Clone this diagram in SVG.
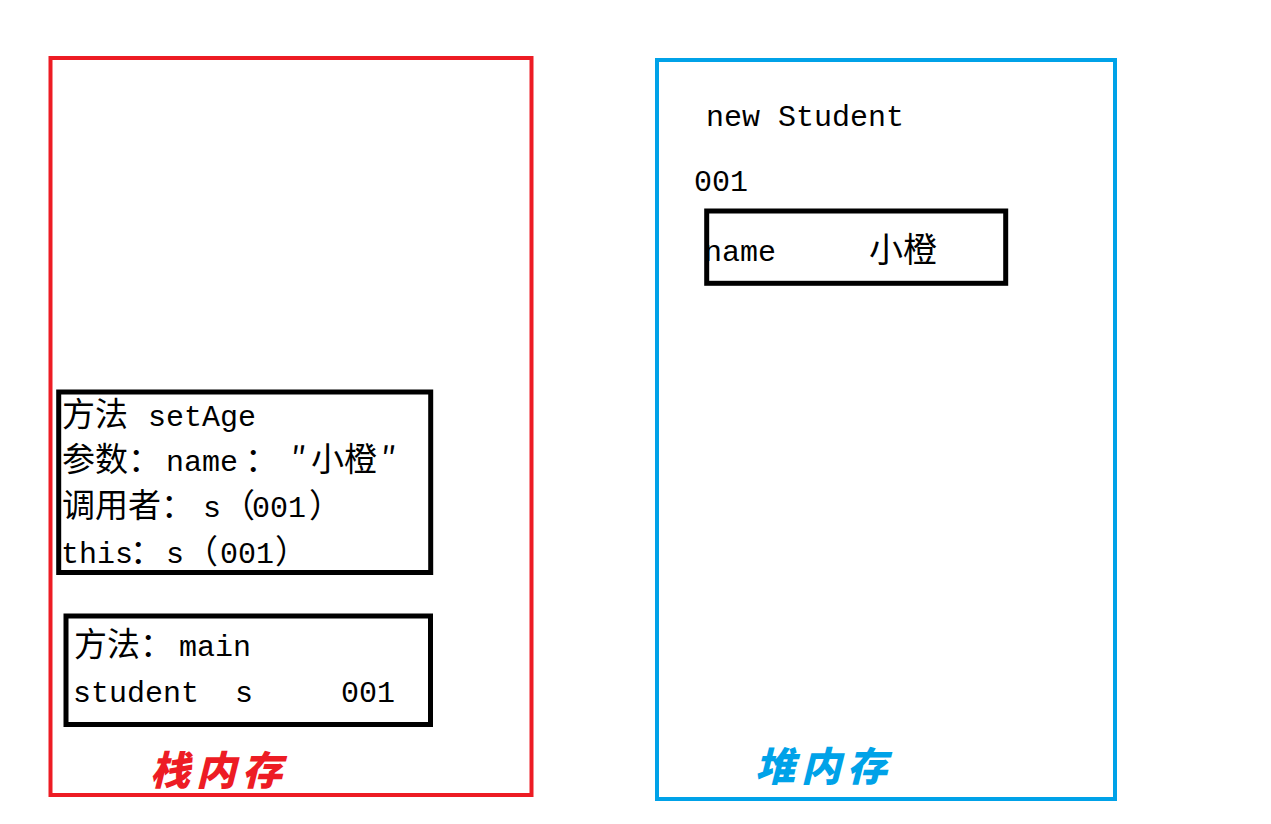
<svg xmlns="http://www.w3.org/2000/svg" width="1271" height="824" viewBox="0 0 1271 824">
<style>
.t{font-family:"Noto Sans CJK SC",sans-serif;font-size:33px;fill:#000}
.a{font-family:"Liberation Mono","DejaVu Sans Mono",monospace;font-size:30px;fill:#000}
.box{fill:none;stroke:#000;stroke-width:5}
.lbl{font-family:"Noto Sans CJK SC",sans-serif;font-size:40px;font-weight:900;font-style:italic;letter-spacing:6px}
</style>
<rect width="1271" height="824" fill="#fff"/>
<g id="stack">
  <rect x="50.5" y="58" width="481" height="737" fill="none" stroke="#ED1C24" stroke-width="4"/>
  <text class="lbl" x="150" y="785" fill="#ED1C24">栈内存</text>
</g>
<g id="heap">
  <rect x="657" y="60" width="458" height="739" fill="none" stroke="#00A2E8" stroke-width="4"/>
  <text class="lbl" x="755" y="781" fill="#00A2E8">堆内存</text>
  <text class="a" x="706" y="126">new Student</text>
  <text class="a" x="694" y="191">001</text>
</g>
<g id="setAge">
  <rect class="box" x="58.7" y="392" width="372" height="180.5" stroke-width="4.5"/>
  <text class="t" x="62" y="426">方法<tspan class="a" x="148">setAge</tspan></text>
  <text class="t" x="62" y="471">参数：<tspan class="a" x="166">name</tspan><tspan x="245">：</tspan><tspan x="291">″</tspan><tspan x="311">小橙</tspan><tspan x="381">″</tspan></text>
  <text class="t" x="62" y="517">调用者：<tspan class="a" x="203">s</tspan><tspan x="222">（</tspan><tspan class="a" x="252">001</tspan><tspan x="309">）</tspan></text>
  <text class="a" x="61" y="563">this<tspan class="t" x="130">：</tspan><tspan x="166">s</tspan><tspan class="t" x="185">（</tspan><tspan x="220">001</tspan><tspan class="t" x="275">）</tspan></text>
</g>
<g id="main">
  <rect class="box" x="66" y="616" width="364.5" height="108.5"/>
  <text class="t" x="74" y="656">方法：<tspan class="a" x="179">main</tspan></text>
  <text class="a" x="73" y="702">student<tspan x="235">s</tspan><tspan x="341">001</tspan></text>
</g>
<g id="student">
  <rect class="box" x="706.7" y="211" width="299" height="72.3"/>
  <text class="a" x="704" y="261">name<tspan class="t" x="869" y="262" style="font-size:34px">小橙</tspan></text>
</g>
<g id="connectors"></g>
</svg>
